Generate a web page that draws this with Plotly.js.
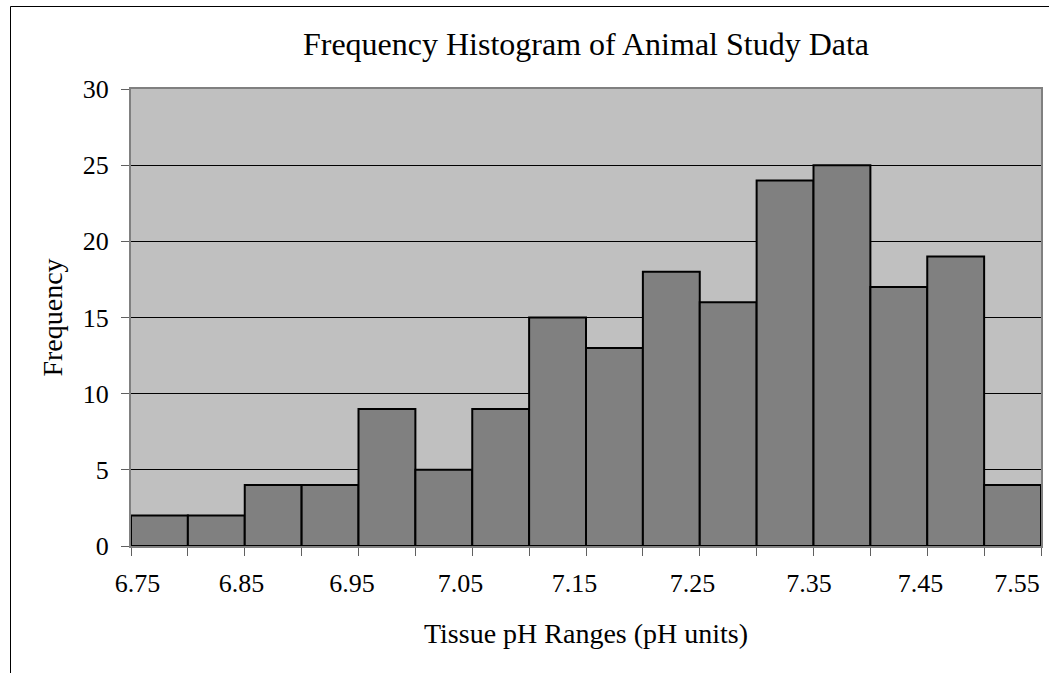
<!DOCTYPE html>
<html>
<head>
<meta charset="utf-8">
<script src="https://cdn.plot.ly/plotly-3.0.1.min.js"></script>
<style>
  html, body { margin: 0; padding: 0; background: #ffffff; }
  #chart { width: 1049px; height: 673px; }
</style>
</head>
<body>
<div id="chart"></div>
<script>
// ---- data ----
const binStart = [6.75, 6.80, 6.85, 6.90, 6.95, 7.00, 7.05, 7.10,
                  7.15, 7.20, 7.25, 7.30, 7.35, 7.40, 7.45, 7.50];
const frequency = [2, 2, 4, 4, 9, 5, 9, 15, 13, 18, 16, 24, 25, 17, 19, 4];
const binWidth = 0.05;
const xTickVals = [6.75, 6.85, 6.95, 7.05, 7.15, 7.25, 7.35, 7.45, 7.55];
const xTickText = ["6.75", "6.85", "6.95", "7.05", "7.15", "7.25", "7.35", "7.45", "7.55"];
const yTickVals = [0, 5, 10, 15, 20, 25, 30];
const chartTitle = "Frequency Histogram of Animal Study Data";
const xTitle = "Tissue pH Ranges (pH units)";
const yTitle = "Frequency";

// ---- layout geometry ----
const W = 1049, H = 673;
const M = { l: 131, r: 8, t: 89, b: 127 };
const pw = W - M.l - M.r, ph = H - M.t - M.b;
const pxX = px => (px - M.l) / pw;
const pxY = py => (H - M.b - py) / ph;
const xRange = [6.75, 7.55];
const pxPerUnit = pw / (xRange[1] - xRange[0]);
// horizontal pixel nudges of the x tick labels (as drawn in the reference)
const labelNudgePx = [6.5, -3.25, -6.5, -11.75, -11.5, -7.25, -4.5, -6.75, -24];
const labelPos = xTickVals.map((v, i) => v + labelNudgePx[i] / pxPerUnit);

const font = "Liberation Serif, Times New Roman, serif";

const trace = {
  type: "bar",
  x: binStart,
  y: frequency,
  width: binWidth,
  offset: 0,
  marker: { color: "#808080", line: { color: "#000000", width: 2 } },
  hoverinfo: "x+y"
};

const layout = {
  width: W, height: H,
  margin: M,
  paper_bgcolor: "#ffffff",
  plot_bgcolor: "#C0C0C0",
  showlegend: false,
  bargap: 0,
  font: { family: font, color: "#000000", size: 26 },
  title: {
    text: chartTitle,
    font: { family: font, size: 32, color: "#000000" },
    xref: "paper", x: 0.5, xanchor: "center",
    yref: "container", y: 1 - 44 / H, yanchor: "middle"
  },
  xaxis: {
    type: "linear",
    range: xRange,
    tickmode: "array",
    tickvals: labelPos,
    ticktext: xTickText,
    ticks: "outside", ticklen: 8, tickwidth: 1, tickcolor: "rgba(0,0,0,0)",
    ticklabelstandoff: 5,
    ticklabeloverflow: "allow",
    minor: { tickmode: "array", tickvals: binStart.concat([xRange[1]]), ticks: "outside", ticklen: 8, tickwidth: 1, tickcolor: "#606060", showgrid: false },
    showgrid: false, zeroline: false,
    showline: true, linecolor: "#808080", linewidth: 2, mirror: true,
    tickfont: { family: font, size: 26, color: "#000000" },
    title: { text: xTitle, font: { family: font, size: 28, color: "#000000" }, standoff: 26 },
    fixedrange: true
  },
  yaxis: {
    range: [0, 30],
    tickmode: "array",
    tickvals: yTickVals,
    ticks: "outside", ticklen: 8, tickwidth: 1, tickcolor: "#606060",
    ticklabelstandoff: 7,
    showgrid: true, gridcolor: "#000000", gridwidth: 1,
    zeroline: false,
    showline: true, linecolor: "#808080", linewidth: 2, mirror: true,
    tickfont: { family: font, size: 26, color: "#000000" },
    title: { text: yTitle, font: { family: font, size: 28, color: "#000000" }, standoff: 12 },
    fixedrange: true
  },
  shapes: [
    { type: "line", xref: "paper", yref: "paper",
      x0: pxX(10.5), x1: pxX(10.5), y0: pxY(6.5), y1: pxY(H + 10),
      line: { color: "#000000", width: 1 } },
    { type: "line", xref: "paper", yref: "paper",
      x0: pxX(10.5), x1: pxX(W + 10), y0: pxY(6.5), y1: pxY(6.5),
      line: { color: "#000000", width: 1 } }
  ]
};

Plotly.newPlot("chart", [trace], layout, { displayModeBar: false, staticPlot: true });
</script>
</body>
</html>
